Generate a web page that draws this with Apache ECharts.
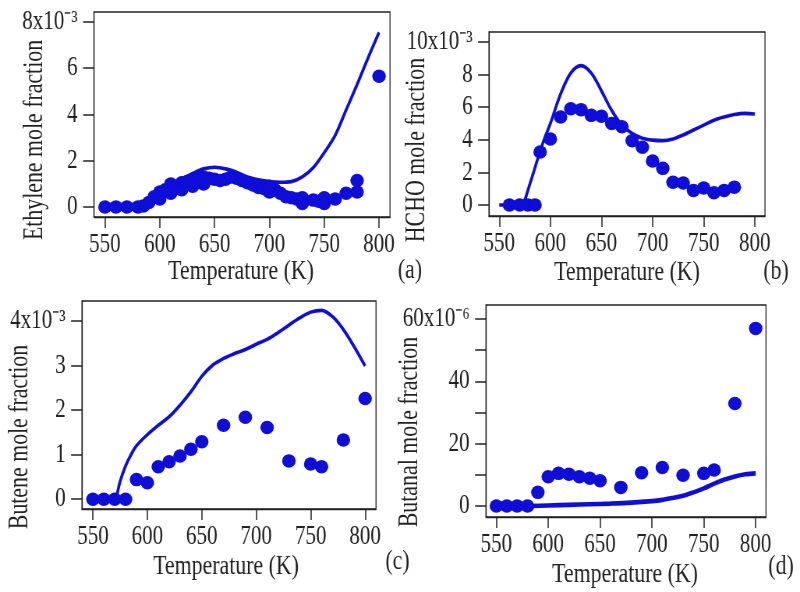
<!DOCTYPE html>
<html>
<head>
<meta charset="utf-8">
<script src="https://cdn.jsdelivr.net/npm/echarts@6/dist/echarts.min.js"></script>
<style>
html,body{margin:0;padding:0;overflow:hidden;background:#fff;width:800px;height:592px;}
#chart{width:1026px;height:592px;transform:scaleX(0.779727);transform-origin:0 0;}
</style>
</head>
<body>
<div id="chart"></div>
<script>
// ---------------- data ----------------
const tempTicks = [550, 600, 650, 700, 750, 800];

// (a) Ethylene, units of 1e-3
const ethyleneExpT = [550,560,570,580,585,590,595,600,600,605,610,610,615,620,620,625,630,630,635,640,640,645,650,655,660,665,670,675,680,685,690,695,700,700,705,710,715,720,725,730,730,740,745,750,750,760,770,780,780,800];
const ethyleneExp  = [0,0,0,0,0.05,0.2,0.45,0.65,0.35,0.75,1.0,0.6,0.85,1.05,0.75,1.1,1.15,0.9,1.2,1.3,1.0,1.25,1.2,1.15,1.2,1.3,1.25,1.15,1.05,0.95,0.85,0.8,0.9,0.65,0.75,0.6,0.45,0.4,0.35,0.15,0.4,0.3,0.25,0.15,0.4,0.35,0.6,1.15,0.65,5.65];
const ethyleneModelT = [580,590,600,610,620,630,640,650,660,670,680,690,700,710,720,730,740,750,760,770,780,790,800];
const ethyleneModel  = [0.05,0.3,0.6,0.9,1.2,1.45,1.65,1.72,1.65,1.5,1.3,1.18,1.1,1.07,1.1,1.3,1.7,2.35,3.1,4.2,5.3,6.45,7.55];
const ethyleneTicks = [0, 2, 4, 6, 8];

// (b) HCHO, units of 1e-3
const hchoExpT = [560,570,578,585,590,600,610,620,630,640,650,660,670,680,690,700,710,720,730,740,750,760,770,780];
const hchoExp  = [0,0,0,0,3.25,4.05,5.4,5.9,5.85,5.5,5.45,5.0,4.8,3.95,3.55,2.7,2.25,1.4,1.35,0.9,1.05,0.75,0.9,1.1];
const hchoModelT = [550,560,570,573,580,585,590,595,600,610,620,630,640,650,660,670,680,690,700,710,720,730,740,750,760,770,780,790,800];
const hchoModel  = [0,0,0,0.05,1.3,2.3,3.3,4.2,5.0,6.8,8.1,8.55,8.1,7.0,5.8,4.9,4.4,4.1,3.98,3.95,4.05,4.3,4.6,4.9,5.2,5.4,5.55,5.62,5.58];
const hchoTicks = [0, 2, 4, 6, 8, 10];

// (c) Butene, units of 1e-3
const buteneExpT = [550,560,570,580,590,600,610,620,630,640,650,670,690,710,730,750,760,780,800];
const buteneExp  = [0,0,0,0,0.44,0.37,0.73,0.84,0.97,1.12,1.29,1.66,1.84,1.61,0.86,0.79,0.73,1.33,2.26];
const buteneModelT = [570,572,575,580,585,590,600,610,620,630,640,650,660,670,680,690,700,710,720,730,740,750,760,770,780,790,800];
const buteneModel  = [0,0.1,0.4,0.75,1.0,1.2,1.45,1.66,1.85,2.11,2.41,2.76,3.01,3.16,3.27,3.36,3.48,3.59,3.74,3.91,4.07,4.2,4.24,4.1,3.81,3.42,2.99];
const buteneTicks = [0, 1, 2, 3, 4];

// (d) Butanal, units of 1e-6
const butanalExpT = [550,560,570,580,590,600,610,620,630,640,650,670,690,710,730,750,760,780,800];
const butanalExp  = [0,0,0,0,4.4,9.4,10.5,10.2,9.4,8.9,8.1,6.0,10.7,12.4,9.9,10.5,11.6,32.9,57];
const butanalModelT = [580,600,620,640,660,680,700,710,720,730,740,750,760,770,780,790,800];
const butanalModel  = [0,0.2,0.4,0.6,0.8,1.1,1.6,2.0,2.6,3.3,4.4,5.7,7.2,8.5,9.5,10.2,10.5];
const butanalTicks = [0, 10, 20, 30, 40, 50, 60];
const butanalLabels = [0, 20, 40, 60];

// ---------------- layout ----------------
const K = 1026 / 800;              // chart space per screen px (horizontal)
const sx = x => x * K;             // screen x -> chart x
const FONT = '"Liberation Serif","Times New Roman",serif';
const INK = '#222';
const BLUE = '#0e0ed8';
const LABEL_MARGIN = 21;
const zip = (a, b) => a.map((v, i) => [v, b[i]]);

const panels = [
  {L:94,  R:390, T:12,  B:217, ymin:-0.43, ymax:8.43,  ticks:ethyleneTicks, labels:ethyleneTicks, sup:'\u207B\u00B3',
   exp:zip(ethyleneExpT, ethyleneExp), model:zip(ethyleneModelT, ethyleneModel), lw:3.6},
  {L:489, R:765, T:32,  B:216, ymin:-0.67, ymax:10.61, ticks:hchoTicks, labels:hchoTicks, sup:'\u207B\u00B3',
   exp:zip(hchoExpT, hchoExp), model:zip(hchoModelT, hchoModel), lw:3.6},
  {L:82,  R:376, T:301, B:509, ymin:-0.22, ymax:4.45,  ticks:buteneTicks, labels:buteneTicks, sup:'\u207B\u00B3',
   exp:zip(buteneExpT, buteneExp), model:zip(buteneModelT, buteneModel), lw:3.6},
  {L:486, R:766, T:305, B:517, ymin:-3.5,  ymax:64.5,  ticks:butanalTicks, labels:butanalLabels, sup:'\u207B\u2076',
   exp:zip(butanalExpT, butanalExp), model:zip(butanalModelT, butanalModel), lw:4.6}
];

const grid = [], xAxis = [], yAxis = [], series = [];
panels.forEach((p, i) => {
  grid.push({
    left: sx(p.L), top: p.T, width: (p.R - p.L) * K, height: p.B - p.T,
    show: true, borderColor: INK, borderWidth: 1.3, backgroundColor: 'transparent',
    containLabel: false, outerBoundsMode: 'none'
  });
  xAxis.push({
    type: 'value', gridIndex: i, min: 540, max: 810, position: 'bottom',
    axisLine: {show: true, onZero: false, lineStyle: {color: INK, width: 1.3}},
    axisTick: {show: true, inside: false, length: 11, customValues: tempTicks, lineStyle: {color: INK, width: 1.5}},
    axisLabel: {show: true, customValues: tempTicks, fontFamily: FONT, fontSize: 27, color: INK, margin: 14, hideOverlap: false},
    splitLine: {show: false}
  });
  yAxis.push({
    type: 'value', gridIndex: i, min: p.ymin, max: p.ymax, position: 'left',
    axisLine: {show: true, onZero: false, lineStyle: {color: INK, width: 1.3}},
    axisTick: {show: true, inside: false, length: 14, customValues: p.ticks, lineStyle: {color: INK, width: 1.5}},
    axisLabel: {show: true, customValues: p.labels.slice(0, -1), formatter: v => String(v),
      fontFamily: FONT, fontSize: 27, color: INK, margin: LABEL_MARGIN, hideOverlap: false,
      align: 'right', verticalAlign: 'middle'},
    splitLine: {show: false}
  });
  series.push({
    type: 'scatter', xAxisIndex: i, yAxisIndex: i, data: p.exp,
    symbol: 'circle', symbolSize: [13.5 * K, 13.5],
    itemStyle: {color: BLUE, opacity: 1}, z: 2, silent: true
  });
  series.push({
    type: 'line', xAxisIndex: i, yAxisIndex: i, data: p.model,
    smooth: 0.35, showSymbol: false, symbol: 'none',
    lineStyle: {color: BLUE, width: p.lw}, z: 3, silent: true
  });
});

function hText(id, text, x, y) {
  return {id: id, type: 'text', x: sx(x), y: y, silent: true,
    style: {text: text, fontFamily: FONT, fontSize: 28, fill: INK, align: 'center', verticalAlign: 'middle'}};
}
function vText(id, text, x, y) {
  return {id: id, type: 'text', x: sx(x), y: y, rotation: Math.PI / 2, scaleX: 0.78, scaleY: K, silent: true,
    style: {text: text, fontFamily: FONT, fontSize: 28, fill: INK, align: 'center', verticalAlign: 'middle'}};
}

const graphic = [
  hText('xa', 'Temperature (K)', 241, 272), hText('pa', '(a)', 410, 271),
  hText('xb', 'Temperature (K)', 627, 273), hText('pb', '(b)', 776, 272),
  hText('xc', 'Temperature (K)', 226, 567), hText('pc', '(c)', 397.5, 562),
  hText('xd', 'Temperature (K)', 625, 575), hText('pd', '(d)', 781, 567),
  vText('ya', 'Ethylene mole fraction', 35, 140),
  vText('yb', 'HCHO mole fraction', 417, 150),
  vText('yc', 'Butene mole fraction', 20, 437),
  vText('yd', 'Butanal mole fraction', 410, 432)
];

const chart = echarts.init(document.getElementById('chart'), null, {renderer: 'canvas'});
chart.setOption({
  animation: false,
  backgroundColor: '#fff',
  grid: grid, xAxis: xAxis, yAxis: yAxis, series: series, graphic: graphic
});

// top tick label with its exponent, placed through each y axis' own scale
const topLabels = panels.map((p, i) => {
  const topVal = p.labels[p.labels.length - 1];
  const y = chart.convertToPixel({yAxisIndex: i}, topVal);
  return {id: 'top' + i, type: 'text', x: sx(p.L) - LABEL_MARGIN, y: y, silent: true,
    style: {text: topVal + 'x10' + p.sup, fontFamily: FONT, fontSize: 27, fill: INK, align: 'right', verticalAlign: 'middle'}};
});
chart.setOption({graphic: graphic.concat(topLabels)});
</script>
</body>
</html>
